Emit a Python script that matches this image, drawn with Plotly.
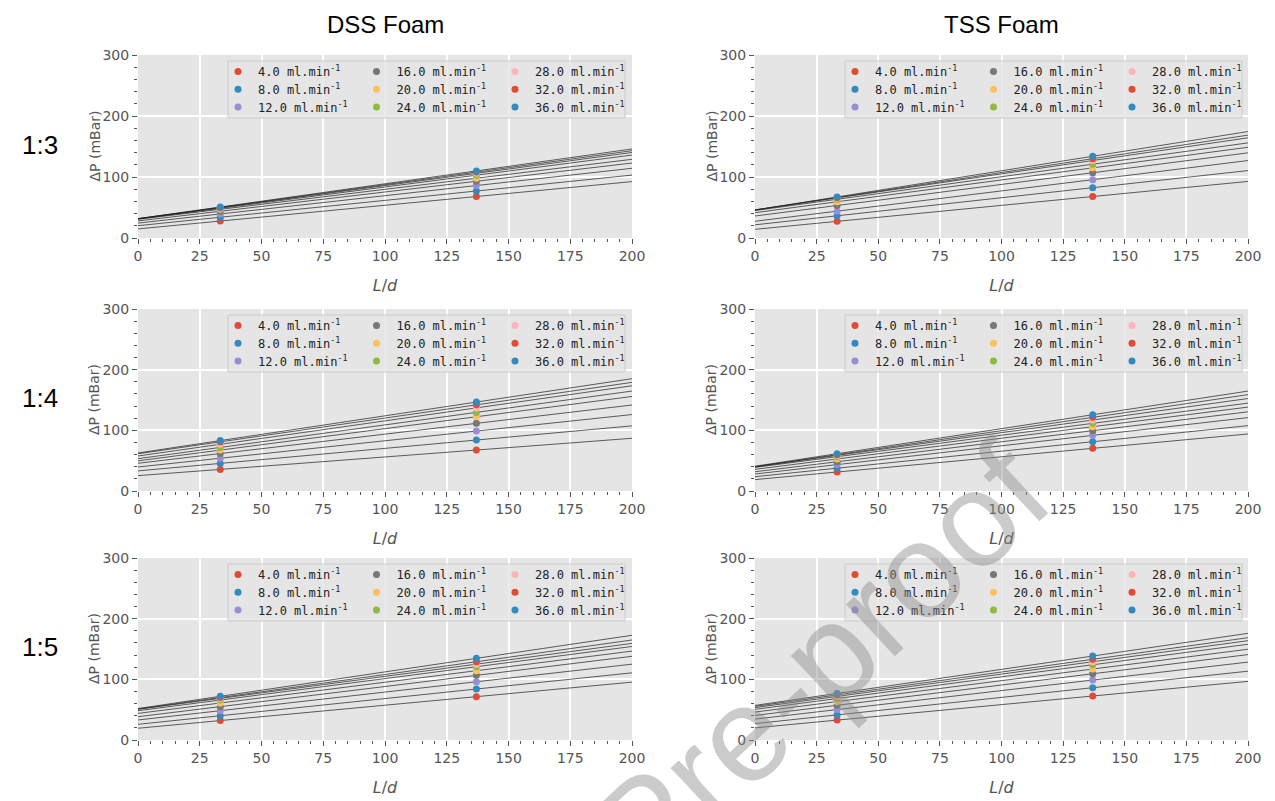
import numpy as np
import plotly.graph_objects as go

W, H = 1275, 801

flow_rates = [4.0, 8.0, 12.0, 16.0, 20.0, 24.0, 28.0, 32.0, 36.0]
colors = ["#E24A33", "#348ABD", "#988ED5", "#777777", "#FBC15E",
          "#8EBA42", "#FFB5B8", "#E24A33", "#348ABD"]
ld_measured = [33.3, 137.0]
ld_fit = [0.0, 200.0]

dss_13_short = [27.8, 34.0, 39.4, 43.8, 47.0, 48.7, 49.7, 50.2, 50.8]
dss_13_long = [68, 77, 86, 93, 98, 103, 106, 108, 110]
tss_13_short = [27.3, 36.4, 44.0, 53.3, 59.4, 63.5, 65.7, 66.4, 67.3]
tss_13_long = [68, 82.5, 95.6, 107, 115, 121, 127, 130, 134]
dss_14_short = [35.6, 45.5, 54.0, 61.7, 67.4, 71.8, 77.0, 81.0, 83.1]
dss_14_long = [67.5, 84, 98.8, 111.5, 122.4, 129.6, 137, 142, 146.6]
tss_14_short = [31.3, 37.6, 43.5, 48.2, 52.8, 56.6, 58.7, 59.8, 61.5]
tss_14_long = [70.3, 81.2, 91.7, 99.4, 106, 111.5, 117, 121.4, 125.7]
dss_15_short = [32.0, 40.0, 48.3, 55.0, 61.0, 65.9, 68.6, 70.0, 72.0]
dss_15_long = [71.4, 84, 96, 106.6, 114.2, 120.8, 125, 129, 134.6]
tss_15_short = [32.8, 41.4, 50.1, 57.2, 63.3, 68.4, 71.8, 74.3, 76.8]
tss_15_long = [72.5, 86.2, 98.8, 109.2, 117, 124, 129, 133, 138.4]

col_titles = ["DSS Foam", "TSS Foam"]
row_titles = ["1:3", "1:4", "1:5"]
x_ticks = [0, 25, 50, 75, 100, 125, 150, 175, 200]
y_ticks = [0, 100, 200, 300]

panels = [
    (0, 0, dss_13_short, dss_13_long),
    (0, 1, tss_13_short, tss_13_long),
    (1, 0, dss_14_short, dss_14_long),
    (1, 1, tss_14_short, tss_14_long),
    (2, 0, dss_15_short, dss_15_long),
    (2, 1, tss_15_short, tss_15_long),
]

col_px = [(138, 632), (755, 1248)]
row_px = [(55, 238), (309, 491), (558, 740)]

GRAY = "#555555"
fig = go.Figure()
layout = dict(
    width=W, height=H, margin=dict(l=0, r=0, t=0, b=0, autoexpand=False),
    paper_bgcolor="white", plot_bgcolor="#E5E5E5",
    showlegend=True, shapes=[], annotations=[],
)

def leg_name(n):
    return "legend" if n == 1 else f"legend{n}"

for p, (r, c, short, long_) in enumerate(panels):
    ax = p + 1
    xa = "x" if ax == 1 else f"x{ax}"
    ya = "y" if ax == 1 else f"y{ax}"
    px0, px1 = col_px[c]
    py0, py1 = row_px[r]
    for k, (f, colr) in enumerate(zip(flow_rates, colors)):
        slope, icpt = np.polyfit(ld_measured, [short[k], long_[k]], 1)
        fig.add_trace(go.Scatter(
            x=ld_fit, y=[icpt + slope * v for v in ld_fit], mode="lines",
            line=dict(color="rgba(30,30,30,0.7)", width=1),
            xaxis=xa, yaxis=ya, showlegend=False, hoverinfo="skip"))
    for k, (f, colr) in enumerate(zip(flow_rates, colors)):
        ln = p * 9 + k + 1
        fig.add_trace(go.Scatter(
            x=ld_measured, y=[short[k], long_[k]], mode="markers",
            marker=dict(color=colr, size=7),
            name=f"{f:.1f} ml.min<sup>-1</sup>",
            legend=leg_name(ln),
            xaxis=xa, yaxis=ya))
        j, i = k // 3, k % 3
        layout[leg_name(ln)] = dict(
            x=(px0 + 80 + j * 138.5) / W, y=1 - (py0 + 2 + i * 17.8) / H,
            xanchor="left", yanchor="top",
            bgcolor="rgba(0,0,0,0)", borderwidth=0,
            font=dict(family="DejaVu Sans Mono", size=12, color="#222222"),
            itemwidth=30)
    axis_common = dict(
        ticks="outside", ticklen=5, tickwidth=1, tickcolor=GRAY,
        tickfont=dict(family="DejaVu Sans", size=14, color=GRAY),
        showgrid=True, gridcolor="white", gridwidth=1.5,
        zeroline=False, showline=False, fixedrange=True,
    )
    layout["xaxis" if ax == 1 else f"xaxis{ax}"] = dict(
        axis_common, domain=[px0 / W, px1 / W], range=[0, 200],
        tickvals=x_ticks, anchor=ya,
        minor=dict(dtick=5, tick0=0, ticks="outside", ticklen=3,
                   tickcolor=GRAY, showgrid=False),
        title=dict(text="<i>L</i>/<i>d</i>", standoff=17,
                   font=dict(family="DejaVu Sans", size=16, color=GRAY)))
    layout["yaxis" if ax == 1 else f"yaxis{ax}"] = dict(
        axis_common, domain=[1 - py1 / H, 1 - py0 / H], range=[0, 300],
        tickvals=y_ticks, anchor=xa,
        minor=dict(dtick=20, tick0=0, ticks="outside", ticklen=3,
                   tickcolor=GRAY, showgrid=False))
    layout["annotations"].append(dict(
        text="ΔP (mBar)", x=(px0 - 44) / W, y=1 - (py0 + py1) / 2 / H,
        xref="paper", yref="paper", showarrow=False, textangle=-90,
        xanchor="center", yanchor="middle",
        font=dict(family="DejaVu Sans", size=14, color=GRAY)))
    layout["shapes"].append(dict(
        type="rect", xref="paper", yref="paper", layer="above",
        x0=(px0 + 90) / W, x1=(px0 + 487) / W,
        y0=1 - (py0 + 63) / H, y1=1 - (py0 + 6) / H,
        fillcolor="rgba(229,229,229,0.8)", line=dict(color="#CCCCCC", width=1)))

for c, t in enumerate(col_titles):
    px0, px1 = col_px[c]
    layout["annotations"].append(dict(
        text=t, x=(px0 + px1) / 2 / W, y=1 - 25 / H, xref="paper", yref="paper",
        showarrow=False, xanchor="center", yanchor="middle",
        font=dict(family="Liberation Sans, Arial", size=24, color="black")))
for r, t in enumerate(row_titles):
    py0, py1 = row_px[r]
    layout["annotations"].append(dict(
        text=t, x=40 / W, y=1 - ((py0 + py1) / 2 - 2) / H, xref="paper", yref="paper",
        showarrow=False, xanchor="center", yanchor="middle",
        font=dict(family="Liberation Sans, Arial", size=26, color="black")))

layout["annotations"].append(dict(
    text="Journal Pre-proof", x=645 / W, y=1 - 825 / H, xref="paper", yref="paper",
    showarrow=False, xanchor="center", yanchor="middle", textangle=-43,
    font=dict(family="Liberation Sans, Arial", size=135, color="rgba(140,140,140,0.45)")))

fig.update_layout(**layout)
fig.write_html("out.html")
